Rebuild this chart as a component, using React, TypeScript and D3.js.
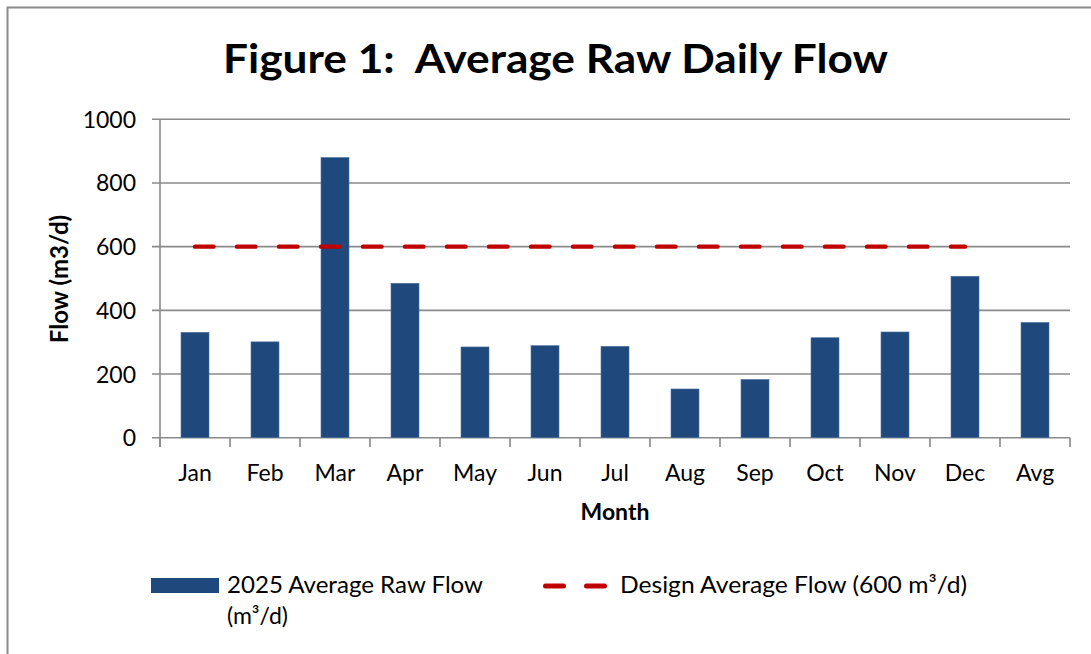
import React from "react";
import * as d3 from "d3";

const months = ["Jan", "Feb", "Mar", "Apr", "May", "Jun", "Jul", "Aug", "Sep", "Oct", "Nov", "Dec", "Avg"];
const flow2025 = [331, 301, 880, 485, 285, 289, 287, 153, 183, 314, 332, 507, 362];
const designMonths = ["Jan", "Feb", "Mar", "Apr", "May", "Jun", "Jul", "Aug", "Sep", "Oct", "Nov", "Dec"];
const designFlow = [600, 600, 600, 600, 600, 600, 600, 600, 600, 600, 600, 600];
const yTicks = [0, 200, 400, 600, 800, 1000];

const titleText = "Figure 1:  Average Raw Daily Flow";
const yTitle = "Flow (m3/d)";
const xTitle = "Month";
const legendBar1 = "2025 Average Raw Flow";
const legendBar2 = "(m³/d)";
const legendLine = "Design Average Flow (600 m³/d)";

const W = 1091;
const H = 654;
const FONT = "Lato, 'Open Sans', sans-serif";
const BAR = "#1F497D";
const RED = "#C00000";
const GRID = "#8A8A8A";

export default function App() {
  const x = d3.scaleBand<string>().domain(months).range([160, 1070]).padding(0);
  const y = d3.scaleLinear().domain([0, 1000]).range([437.7, 119.3]);
  const bw = x.bandwidth();
  const center = (m: string) => (x(m) as number) + bw / 2;

  const lineGen = d3
    .line<number>()
    .x((_, i) => center(designMonths[i]))
    .y((d) => y(d));

  const boundaries = months.map((m) => x(m) as number).concat([1070]);

  return (
    <svg
      width={W}
      height={H}
      style={{ position: "absolute", left: 0, top: 0, background: "#fff" }}
      fontFamily={FONT}
    >
      <rect x={0} y={0} width={W} height={H} fill="#fff" />
      <rect x={7.5} y={7.5} width={1400} height={1400} fill="none" stroke={GRID} strokeWidth={2} />

      <text
        x={223}
        y={73}
        fontSize={41}
        fontWeight={700}
        fill="#000"
        textLength={665}
        lengthAdjust="spacingAndGlyphs"
        style={{ whiteSpace: "pre" }}
      >
        {titleText}
      </text>

      {/* gridlines */}
      {yTicks.map((t) => (
        <line key={"g" + t} x1={152} x2={1070} y1={y(t)} y2={y(t)} stroke={GRID} strokeWidth={1.6} />
      ))}
      {/* y axis */}
      <line x1={160} x2={160} y1={y(1000)} y2={447} stroke={GRID} strokeWidth={1.6} />
      {boundaries.map((b, i) => (
        <line key={"t" + i} x1={b} x2={b} y1={y(0)} y2={447} stroke={GRID} strokeWidth={1.6} />
      ))}
      {yTicks.map((t) => (
        <text key={"yl" + t} x={136} y={y(t) + 8.5} fontSize={23} textAnchor="end" fill="#000">
          {t}
        </text>
      ))}

      {/* bars */}
      {months.map((m, i) => (
        <rect
          key={"b" + m}
          x={(x(m) as number) + bw * 0.3}
          y={y(flow2025[i])}
          width={bw * 0.4}
          height={y(0) - y(flow2025[i])}
          fill={BAR}
          stroke="#4F72A0"
          strokeWidth={0.6}
        />
      ))}

      {/* design line */}
      <path
        d={lineGen(designFlow) || ""}
        fill="none"
        stroke={RED}
        strokeWidth={4.4}
        strokeLinecap="round"
        strokeDasharray="18.5 23.5"
      />

      {/* x labels */}
      {months.map((m) => (
        <text key={"xl" + m} x={center(m)} y={481} fontSize={23} textAnchor="middle" fill="#000">
          {m}
        </text>
      ))}
      <text x={615} y={520} fontSize={23} fontWeight={700} textAnchor="middle" fill="#000">
        {xTitle}
      </text>
      <text
        transform="translate(68,279) rotate(-90)"
        fontSize={24}
        fontWeight={700}
        textAnchor="middle"
        fill="#000"
      >
        {yTitle}
      </text>

      {/* legend */}
      <rect x={151} y={578} width={68} height={15} fill={BAR} />
      <text x={227} y={593} fontSize={23} fill="#000" textLength={256} lengthAdjust="spacingAndGlyphs">
        {legendBar1}
      </text>
      <text x={227} y={624} fontSize={23} fill="#000">
        {legendBar2}
      </text>
      <line
        x1={545.5}
        x2={606}
        y1={586}
        y2={586}
        stroke={RED}
        strokeWidth={5}
        strokeLinecap="round"
        strokeDasharray="18 23"
      />
      <text x={620} y={593} fontSize={23} fill="#000" textLength={347} lengthAdjust="spacingAndGlyphs">
        {legendLine}
      </text>
    </svg>
  );
}
